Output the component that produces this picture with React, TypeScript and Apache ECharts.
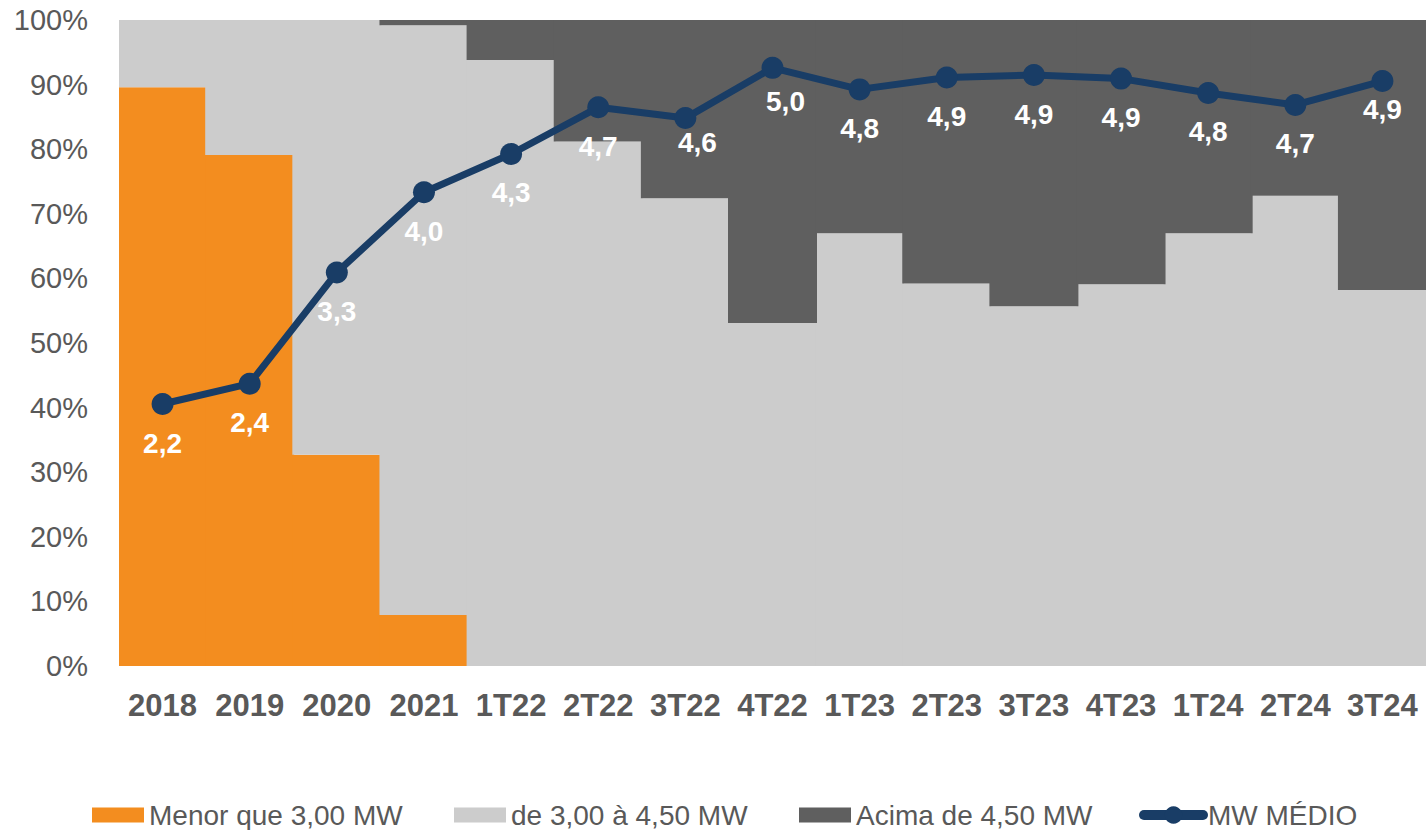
import React, { useEffect, useRef } from "react";
import * as echarts from "echarts";

const categories = ["2018", "2019", "2020", "2021", "1T22", "2T22", "3T22", "4T22", "1T23", "2T23", "3T23", "4T23", "1T24", "2T24", "3T24"];
const menorQue3 = [89.6, 79.1, 32.7, 7.9, 0, 0, 0, 0, 0, 0, 0, 0, 0, 0, 0];
const de3a45 = [10.4, 20.9, 67.3, 91.3, 93.8, 81.2, 72.4, 53.1, 67.0, 59.2, 55.7, 59.1, 67.0, 72.8, 58.2];
const acima45 = [0, 0, 0, 0.8, 6.2, 18.8, 27.6, 46.9, 33.0, 40.8, 44.3, 40.9, 33.0, 27.2, 41.8];
const mwMedio = [2.19, 2.36, 3.29, 3.96, 4.28, 4.67, 4.58, 5.0, 4.82, 4.92, 4.94, 4.91, 4.79, 4.69, 4.89];

const FONT = "'Liberation Sans', Arial, sans-serif";
const GRAY_TEXT = "#595959";
const ORANGE = "#F38D1F";
const LIGHT = "#CCCCCC";
const DARK = "#5F5F5F";
const NAVY = "#193D66";

// manual label nudges (style only), as in the original layout
const labelNudge: Record<string, [number, number]> = {
  "3T22": [12, -15],
  "4T22": [13, -5],
  "3T24": [0, -11],
};

export default function App() {
  const ref = useRef<HTMLDivElement>(null);
  useEffect(() => {
    if (!ref.current) return;
    const chart = echarts.init(ref.current, null, { renderer: "svg" });
    const barData = (arr: number[]) => arr.map((v) => (v === 0 ? null : v));
    const barStyle = (color: string) => ({ color });
    const legendBase = {
      top: 801,
      padding: 0,
      itemWidth: 52,
      itemHeight: 15,
      textStyle: { fontSize: 28, color: GRAY_TEXT, fontFamily: FONT, lineHeight: 28 },
    };
    const BAR_W = 89;
    chart.setOption({
      animation: false,
      textStyle: { fontFamily: FONT },
      grid: { left: 119, top: 20, width: 1312, height: 646, containLabel: false },
      legend: [
        { ...legendBase, left: 92, data: [{ name: "Menor que 3,00 MW", icon: "rect" }] },
        { ...legendBase, left: 454, data: [{ name: "de 3,00 à 4,50 MW", icon: "rect" }] },
        { ...legendBase, left: 799, data: [{ name: "Acima de 4,50 MW", icon: "rect" }] },
        {
          ...legendBase,
          left: 1139,
          itemWidth: 59,
          itemHeight: 22,
          lineStyle: { width: 10, cap: "round" },
          data: [{ name: "MW MÉDIO" }],
        },
      ],
      xAxis: {
        type: "category",
        data: categories,
        axisLine: { show: false },
        axisTick: { show: false },
        splitLine: { show: false },
        splitArea: { show: false },
        axisLabel: {
          interval: 0,
          fontSize: 31,
          fontWeight: "bold",
          color: GRAY_TEXT,
          margin: 24,
          fontFamily: FONT,
        },
      },
      yAxis: [
        {
          type: "value",
          min: 0,
          max: 100,
          interval: 10,
          axisLine: { show: false },
          axisTick: { show: false },
          splitLine: { show: false },
          axisLabel: {
            formatter: "{value}%",
            fontSize: 29,
            color: GRAY_TEXT,
            margin: 31,
            fontFamily: FONT,
          },
        },
        {
          type: "value",
          min: 0,
          max: 5.4,
          show: false,
          splitLine: { show: false },
        },
      ],
      series: [
        {
          name: "Menor que 3,00 MW",
          type: "bar",
          stack: "total",
          barWidth: BAR_W,
          data: barData(menorQue3),
          itemStyle: barStyle(ORANGE),
        },
        {
          name: "de 3,00 à 4,50 MW",
          type: "bar",
          stack: "total",
          barWidth: BAR_W,
          data: barData(de3a45),
          itemStyle: barStyle(LIGHT),
        },
        {
          name: "Acima de 4,50 MW",
          type: "bar",
          stack: "total",
          barWidth: BAR_W,
          data: barData(acima45),
          itemStyle: barStyle(DARK),
        },
        {
          name: "MW MÉDIO",
          type: "line",
          yAxisIndex: 1,
          data: mwMedio.map((v, i) => {
            const nudge = labelNudge[categories[i]];
            return nudge ? { value: v, label: { offset: nudge } } : v;
          }),
          symbol: "circle",
          symbolSize: 22,
          lineStyle: { color: NAVY, width: 7 },
          itemStyle: { color: NAVY },
          label: {
            show: true,
            position: "bottom",
            distance: 14,
            color: "#FFFFFF",
            fontSize: 28,
            fontWeight: "bold",
            fontFamily: FONT,
            formatter: (p: any) => Number(p.value).toFixed(1).replace(".", ","),
          },
          z: 5,
        },
      ],
    });
    return () => chart.dispose();
  }, []);
  return (
    <div
      ref={ref}
      style={{ position: "fixed", left: 0, top: 0, width: 1426, height: 830, background: "#ffffff" }}
    />
  );
}
